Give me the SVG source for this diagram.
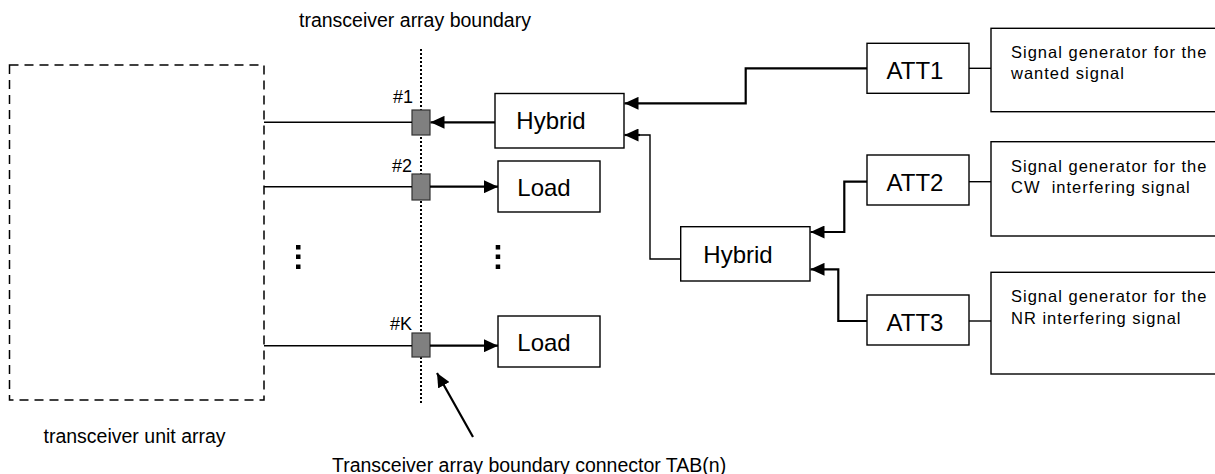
<svg xmlns="http://www.w3.org/2000/svg" width="1215" height="474" viewBox="0 0 1215 474">
<style>
.box{fill:#fff;stroke:#000;stroke-width:1.4}
.lbl{font-family:"Liberation Sans",Arial,sans-serif;font-size:24px;fill:#000}
.sg{font-family:"Liberation Sans",Arial,sans-serif;font-size:16.5px;letter-spacing:1px;fill:#000}
.cap{font-family:"Liberation Sans",Arial,sans-serif;font-size:19.5px;fill:#000}
.num{font-family:"Liberation Sans",Arial,sans-serif;font-size:18px;fill:#000}
.thin{fill:none;stroke:#000;stroke-width:1.4}
.thick{fill:none;stroke:#000;stroke-width:2.2}
.port{fill:#808080;stroke:#333;stroke-width:1.2}
.dot{fill:#000}
</style>
<defs>
<marker id="ah" markerUnits="userSpaceOnUse" markerWidth="15" markerHeight="13" refX="14" refY="6.5" orient="auto">
<path d="M0,0 L14,6.5 L0,13 z" fill="#000"/>
</marker>
</defs>

<g id="unit-array">
<rect x="9.5" y="65" width="254.5" height="335" fill="none" stroke="#000" stroke-width="1.5" stroke-dasharray="9,6"/>
<text class="cap" x="43.5" y="443">transceiver unit array</text>
<rect class="dot" x="296" y="245" width="4.5" height="4.5"/>
<rect class="dot" x="296" y="254.5" width="4.5" height="4.5"/>
<rect class="dot" x="296" y="264.5" width="4.5" height="4.5"/>
</g>

<g id="boundary">
<line x1="421" y1="49" x2="421" y2="403" stroke="#000" stroke-width="2" stroke-dasharray="2,2"/>
<text class="cap" x="299" y="27.3">transceiver array boundary</text>
</g>

<g id="port1"><rect class="port" x="412" y="110" width="18" height="25"/><text class="num" x="393" y="103">#1</text></g>
<g id="port2"><rect class="port" x="412" y="174" width="18" height="26"/><text class="num" x="392" y="172">#2</text></g>
<g id="portK"><rect class="port" x="412" y="333" width="18" height="24"/><text class="num" x="390" y="330">#K</text></g>

<g id="hybrid1"><rect class="box" x="495" y="93.5" width="129" height="54.5"/><text class="lbl" x="551" y="129" text-anchor="middle">Hybrid</text></g>
<g id="load1"><rect class="box" x="498" y="161" width="102" height="51"/><text class="lbl" x="544" y="195.5" text-anchor="middle">Load</text></g>
<g id="load2"><rect class="box" x="498" y="316" width="102" height="51"/><text class="lbl" x="544" y="350.5" text-anchor="middle">Load</text></g>
<g id="dots2">
<rect class="dot" x="495.7" y="245" width="4.5" height="4.5"/>
<rect class="dot" x="495.7" y="254.5" width="4.5" height="4.5"/>
<rect class="dot" x="495.7" y="264.5" width="4.5" height="4.5"/>
</g>
<g id="hybrid2"><rect class="box" x="680.7" y="226.7" width="129.3" height="54.3"/><text class="lbl" x="738" y="262.5" text-anchor="middle">Hybrid</text></g>

<g id="att1"><rect class="box" x="867" y="43.3" width="102" height="50"/><text class="lbl" x="915" y="78.5" text-anchor="middle">ATT1</text></g>
<g id="att2"><rect class="box" x="867" y="155" width="102" height="50"/><text class="lbl" x="915" y="190.5" text-anchor="middle">ATT2</text></g>
<g id="att3"><rect class="box" x="867" y="295" width="102" height="50"/><text class="lbl" x="915" y="330.5" text-anchor="middle">ATT3</text></g>

<g id="sg1"><rect class="box" x="991" y="28.3" width="240" height="83.4"/>
<text class="sg" x="1011" y="57.5">Signal generator for the</text>
<text class="sg" x="1011" y="78.5">wanted signal</text></g>
<g id="sg2"><rect class="box" x="991" y="141.7" width="240" height="94.3"/>
<text class="sg" x="1011" y="171.5">Signal generator for the</text>
<text class="sg" x="1011" y="193" xml:space="preserve">CW  interfering signal</text></g>
<g id="sg3"><rect class="box" x="991" y="272.3" width="240" height="101.7"/>
<text class="sg" x="1011" y="302">Signal generator for the</text>
<text class="sg" x="1011" y="323.5">NR interfering signal</text></g>

<g id="connectors">
<line class="thin" x1="264" y1="122.3" x2="412" y2="122.3"/>
<line class="thin" x1="264" y1="186.7" x2="412" y2="186.7"/>
<line class="thin" x1="264" y1="345.7" x2="412" y2="345.7"/>
<path class="thick" d="M495,122.3 H430.5" marker-end="url(#ah)"/>
<path class="thick" d="M430,186.7 H498" marker-end="url(#ah)"/>
<path class="thick" d="M430,345.7 H498" marker-end="url(#ah)"/>
<path class="thick" d="M867,68.3 H745.7 V103.3 H624.5" marker-end="url(#ah)"/>
<path class="thin" d="M680.7,259 H650 V135 H638"/>
<path class="thick" d="M640,135 H624.5" marker-end="url(#ah)"/>
<path class="thick" d="M867,181.7 H844.3 V232 H810.5" marker-end="url(#ah)"/>
<path class="thick" d="M867,321 H838.3 V269.3 H810.5" marker-end="url(#ah)"/>
<line class="thin" x1="969" y1="68.3" x2="991" y2="68.3"/>
<line class="thin" x1="969" y1="181.7" x2="991" y2="181.7"/>
<line class="thin" x1="969" y1="321" x2="991" y2="321"/>
<path class="thick" d="M473,437 L437,373" marker-end="url(#ah)"/>
</g>
<text class="cap" x="332" y="472">Transceiver array boundary connector TAB(n)</text>
</svg>
